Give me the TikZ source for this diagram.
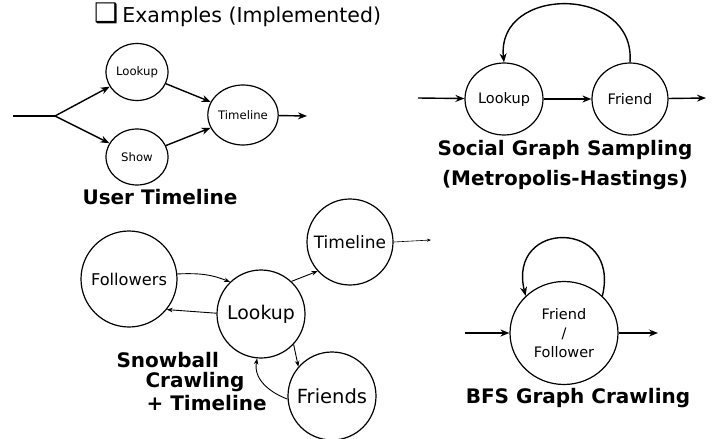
\documentclass[tikz,border=0pt]{standalone}
\usepackage{fontspec}
\setmainfont{DejaVu Sans}
\usetikzlibrary{arrows.meta,shapes.geometric}
\begin{document}
\begin{tikzpicture}[x=1pt,y=-1pt,
  st/.style={draw,ellipse,line width=1.2pt,inner sep=0pt},
  arr/.style={line width=1.4pt,-{Stealth[length=9pt,width=7pt]}},
  sarr/.style={line width=0.9pt,-{Stealth[length=6pt,width=4.5pt]}},
  tarr/.style={line width=0.6pt,-{Stealth[length=4pt,width=3pt]}},
  ttl/.style={font=\fontsize{20}{30}\selectfont\bfseries,align=center}]
\useasboundingbox[fill=white] (0,0) rectangle (713,439);
% header
\node[anchor=west,inner sep=0pt,font=\fontsize{20.5}{22}\selectfont] (hdr) at (94,15) {{\fontsize{27}{27}\selectfont ❑}\hspace{4pt}Examples (Implemented)};
% ---------- User Timeline
\node[st,minimum width=62pt,minimum height=57pt,font=\fontsize{11.7}{13}\selectfont] (ulk) at (137,72) {Lookup};
\node[st,minimum width=62pt,minimum height=56pt,font=\fontsize{11.7}{13}\selectfont] (ush) at (137,157) {Show};
\node[st,minimum width=70pt,minimum height=60pt,font=\fontsize{11.7}{13}\selectfont] (utl) at (243,115) {Timeline};
\coordinate (uin) at (13,116);
\coordinate (usp) at (55,116);
\coordinate (uout) at (307,116);
\draw[line width=1.4pt] (uin) -- (usp);
\draw[arr] (usp) -- (ulk);
\draw[arr] (usp) -- (ush);
\draw[arr] (ulk) -- (utl);
\draw[arr] (ush) -- (utl);
\draw[arr] (utl) -- (uout);
\node[ttl] (utitle) at (160,197) {User Timeline};
% ---------- Social Graph Sampling
\node[st,minimum width=78pt,minimum height=72pt,font=\fontsize{14.5}{16}\selectfont] (slk) at (504,99) {Lookup};
\node[st,minimum width=76pt,minimum height=72pt,font=\fontsize{14.5}{16}\selectfont] (sfr) at (630,99) {Friend};
\coordinate (sin) at (418,98);
\coordinate (sout) at (706,98);
\draw[arr] (sin) -- (slk);
\draw[arr] (slk) -- (sfr);
\draw[arr] (sfr) -- (sout);
\draw[arr] (sfr.north) .. controls (636,-15) and (496,-15) .. (slk.north);
\node[ttl] (stitle) at (565,165) {Social Graph Sampling\\(Metropolis-Hastings)};
% ---------- Snowball
\node[st,circle,minimum size=96pt,font=\fontsize{16.2}{18}\selectfont] (fo) at (129,279) {Followers};
\node[st,circle,minimum size=88pt,font=\fontsize{18.9}{21}\selectfont] (lk) at (261,314) {Lookup};
\node[st,circle,minimum size=86pt,font=\fontsize{17}{19}\selectfont] (tl) at (350,242) {Timeline};
\node[st,circle,minimum size=88pt,font=\fontsize{19.5}{21}\selectfont] (fr) at (332,396) {Friends};
\coordinate (tout) at (431,240);
\draw[sarr] (fo.6) .. controls +(25,-1) and +(-18,-7) .. (lk.134);
\draw[sarr] (lk.179) -- (fo.-39);
\draw[sarr] (lk.47) -- (tl.222);
\draw[tarr] (tl.east) -- (tout);
\draw[sarr] (lk.-43) -- (fr.139);
\draw[sarr] (fr.184) .. controls +(-16,-6) and +(-4,22) .. (lk.-95);
\node[ttl,anchor=west] (sn1) at (113,360) {Snowball};
\node[ttl,anchor=west] (sn2) at (142,382) {Crawling};
\node[ttl,anchor=west] (sn3) at (143,403) {+ Timeline};
% ---------- BFS
\node[st,minimum width=108pt,minimum height=103pt,align=center,font=\fontsize{14.5}{19}\selectfont] (bf) at (564,333) {Friend\\/\\Follower};
\coordinate (bin) at (465,333);
\coordinate (bout) at (658,333);
\draw[arr] (bin) -- (bf);
\draw[arr] (bf) -- (bout);
\draw[arr] (bf.44) .. controls (621,219) and (507,219) .. (bf.136);
\node[ttl] (btitle) at (578,398) {BFS Graph Crawling};
\end{tikzpicture}
\end{document}
